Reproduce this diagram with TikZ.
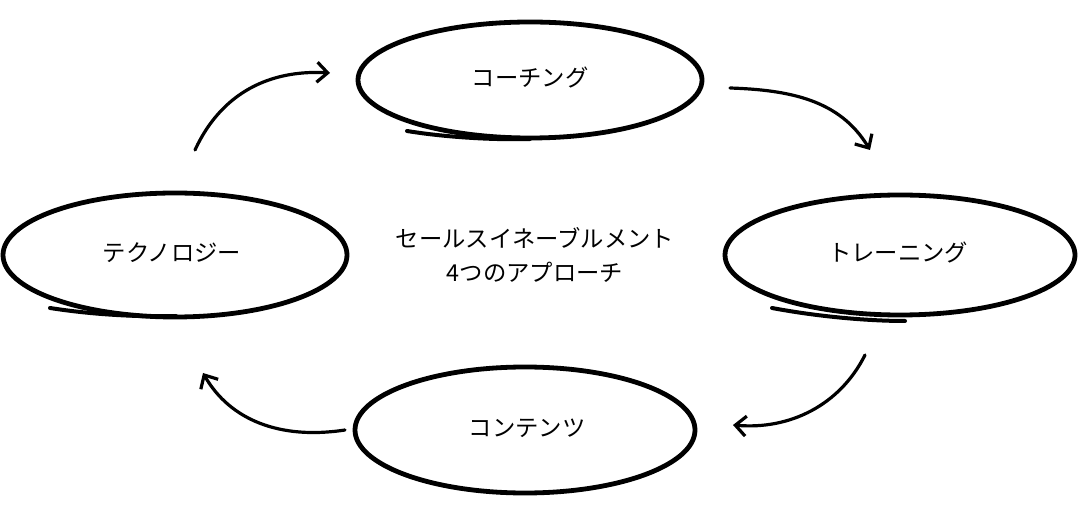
\documentclass[tikz,border=0pt]{standalone}
\usepackage{fontspec}
\setmainfont{Noto Sans CJK JP}
\usetikzlibrary{arrows.meta}
\begin{document}
\begin{tikzpicture}[x=0.75pt,y=-0.75pt,
  ring/.style={line width=3.6pt},
  under/.style={line width=3pt,line cap=round},
  flow/.style={line width=2.4pt,line cap=round,-{Straight Barb[length=8pt,width=15pt,line width=2.4pt]}},
  lbl/.style={font=\fontsize{17.5}{25}\selectfont}]
\useasboundingbox (0,0) rectangle (1080,505);
% ellipses
\draw[ring] (530,80) ellipse [x radius=172, y radius=58];
\node[lbl] (c) at (530,78) {コーチング};
\draw[under] (407,131) .. controls (450,138) and (500,140) .. (530,139);
\draw[ring] (900,255) ellipse [x radius=175, y radius=60];
\node[lbl] (t) at (898,253) {トレーニング};
\draw[under] (772,308) .. controls (820,317) and (870,321) .. (905,321);
\draw[ring] (175,255) ellipse [x radius=172, y radius=62];
\node[lbl] (g) at (172,253) {テクノロジー};
\draw[under] (50,308) .. controls (95,315) and (140,317) .. (176,316);
\draw[ring] (525,430) ellipse [x radius=170, y radius=63];
\node[lbl] (n) at (527,428) {コンテンツ};
\node[lbl,align=center] (m) at (535,255) {セールスイネーブルメント\\4つのアプローチ};
% arrows
\coordinate (a1) at (195,150); \coordinate (b1) at (330,73);
\draw[flow] (a1) .. controls (225,85) and (280,70) .. (b1);
\coordinate (a2) at (730,88); \coordinate (b2) at (870,150);
\draw[flow] (a2) .. controls (790,90) and (840,100) .. (b2);
\coordinate (a3) at (865,355); \coordinate (b3) at (733,425);
\draw[flow] (a3) .. controls (840,405) and (790,430) .. (b3);
\coordinate (a4) at (345,430); \coordinate (b4) at (203,373);
\draw[flow] (a4) .. controls (280,440) and (230,420) .. (b4);
\end{tikzpicture}
\end{document}
